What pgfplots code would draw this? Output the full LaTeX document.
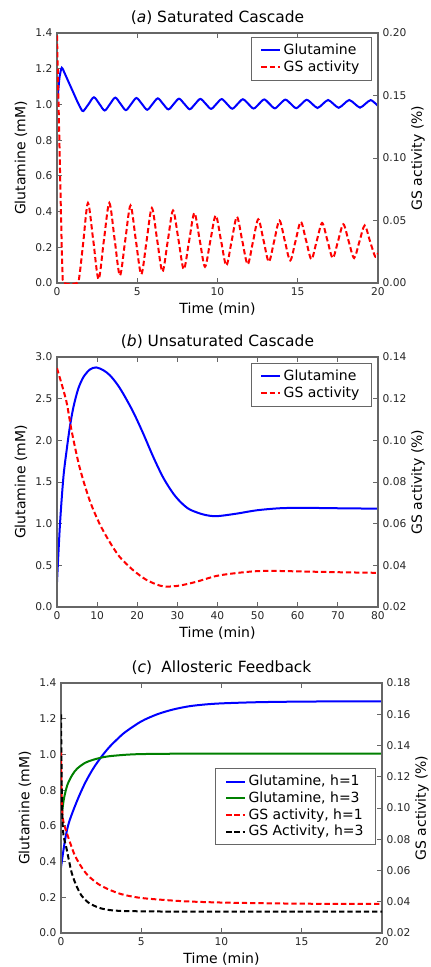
\documentclass[border=0pt]{standalone}
\usepackage{fontspec}
\setmainfont{DejaVu Sans}
\usepackage{pgfplots}
\pgfplotsset{compat=1.18}

\definecolor{mplblue}{rgb}{0,0,1}
\definecolor{mplgreen}{rgb}{0,0.5,0}
\definecolor{mplred}{rgb}{1,0,0}

\newcommand{\tickfont}{\fontsize{8}{9.6}\selectfont}
\newcommand{\labfont}{\fontsize{10.5}{12}\selectfont}
\newcommand{\titfont}{\fontsize{11.6}{13}\selectfont}

\pgfplotsset{
  every axis title shift=0pt,
  panel/.style={scale only axis, width=240.75pt, height=187.5pt, anchor=north west,
    axis line style={black!60, line width=0.8pt},
    major tick length=3.5pt, tick style={black!60, line width=0.7pt},
    tick label style={font=\tickfont, color=black!85},
    label style={font=\labfont},
    /pgf/number format/assume math mode=true, scaled ticks=false,
    xlabel style={at={(axis description cs:0.5,-0.105)}, anchor=center}},
  leftax/.style={panel, ytick pos=left,
    ylabel style={at={(axis description cs:-0.112,0.5)}, anchor=center},
    yticklabel style={/pgf/number format/.cd, fixed, fixed zerofill, precision=1},
    title style={at={(axis description cs:0.5,1.062)}, anchor=center, font=\titfont}},
  rightax/.style={panel, hide x axis, ytick pos=right,
    ylabel style={at={(axis description cs:1.125,0.5)}, anchor=center},
    yticklabel style={/pgf/number format/.cd, fixed, fixed zerofill, precision=2},
    legend cell align=left,
    legend style={draw=black!60, line width=0.6pt, font=\labfont, anchor=north east,
      inner xsep=7pt, inner ysep=3pt, row sep=-1pt},
    legend image code/.code={\draw[#1] (0pt,0pt) -- (14pt,0pt);}},
  solid1/.style={line width=1.5pt, smooth},
  gsdash/.style={mplred, line width=1.5pt, smooth, dash pattern=on 4pt off 2.2pt},
}

\begin{document}
\begin{tikzpicture}
% (a) saturated cascade
\begin{axis}[leftax, at={(0pt,0pt)}, xmin=0, xmax=20, ymin=0, ymax=1.4,
  xtick={0,5,10,15,20}, ytick={0,0.2,0.4,0.6,0.8,1.0,1.2,1.4},
  xlabel={Time (min)}, ylabel={Glutamine (mM)},
  title={(\textit{a}) Saturated Cascade}]
\addplot[mplblue, solid1] coordinates {
(0,1.00) (0.08,1.08) (0.17,1.16) (0.3,1.205) (0.45,1.18) (0.7,1.13) (1.0,1.07) (1.3,1.01) (1.5,0.975)
(1.64,0.963) (1.97,1.002) (2.30,1.040) (2.64,1.003) (2.97,0.966) (3.30,1.002) (3.63,1.038) (3.96,1.003)
(4.29,0.968) (4.62,1.002) (4.95,1.036) (5.29,1.003) (5.62,0.970) (5.95,1.002) (6.28,1.034) (6.61,1.003)
(6.94,0.972) (7.27,1.002) (7.60,1.032) (7.94,1.0025) (8.27,0.973) (8.60,1.002) (8.93,1.031) (9.27,1.003)
(9.60,0.975) (9.93,1.0025) (10.26,1.030) (10.59,1.003) (10.92,0.976) (11.25,1.0025) (11.58,1.029) (11.92,1.003)
(12.25,0.977) (12.58,1.0025) (12.91,1.028) (13.24,1.003) (13.57,0.978) (13.90,1.0025) (14.23,1.027) (14.57,1.003)
(14.90,0.979) (15.23,1.0025) (15.56,1.026) (15.90,1.003) (16.23,0.980) (16.56,1.0025) (16.89,1.025) (17.22,1.003)
(17.55,0.981) (17.88,1.003) (18.21,1.025) (18.55,1.0035) (18.88,0.982) (19.21,1.003) (19.54,1.024) (19.87,1.003)
(20.0,0.992)
};
\end{axis}
\begin{axis}[rightax, at={(0pt,0pt)}, xmin=0, xmax=20, ymin=0, ymax=0.2,
  ytick={0,0.05,0.10,0.15,0.20}, ylabel={GS activity (\%)},
  legend style={at={(axis description cs:0.981,0.984)}}]
\addlegendimage{mplblue, line width=1.5pt}
\addlegendentry{Glutamine}
\addplot[gsdash] coordinates {
(0,0.198) (0.12,0.13) (0.24,0.06) (0.34,0.01) (0.45,0.0) (1.25,0.0) (1.40,0.006) (1.64,0.033)
(1.93,0.064) (2.26,0.034) (2.59,0.003) (2.92,0.034) (3.26,0.064) (3.59,0.035) (3.92,0.006) (4.25,0.034)
(4.58,0.062) (4.91,0.0345) (5.25,0.007) (5.58,0.0335) (5.91,0.060) (6.24,0.0345) (6.57,0.009) (6.90,0.0335)
(7.23,0.058) (7.57,0.0345) (7.90,0.011) (8.23,0.0335) (8.56,0.056) (8.89,0.0345) (9.22,0.013) (9.55,0.0335)
(9.89,0.054) (10.22,0.034) (10.55,0.014) (10.88,0.0335) (11.21,0.053) (11.54,0.034) (11.88,0.015) (12.21,0.033)
(12.54,0.051) (12.87,0.034) (13.20,0.017) (13.53,0.0335) (13.86,0.050) (14.19,0.034) (14.53,0.018) (14.86,0.0335)
(15.19,0.049) (15.52,0.034) (15.85,0.019) (16.18,0.0335) (16.52,0.048) (16.85,0.034) (17.18,0.020) (17.51,0.0335)
(17.84,0.047) (18.17,0.0335) (18.51,0.020) (18.84,0.033) (19.17,0.046) (19.50,0.0335) (19.83,0.021) (20.0,0.024)
};
\addlegendentry{GS activity}
\end{axis}

% (b) unsaturated cascade
\begin{axis}[leftax, at={(0pt,-243pt)}, xmin=0, xmax=80, ymin=0, ymax=3,
  xtick={0,10,20,30,40,50,60,70,80}, ytick={0,0.5,1.0,1.5,2.0,2.5,3.0},
  xlabel={Time (min)}, ylabel={Glutamine (mM)},
  title={(\textit{b}) Unsaturated Cascade}]
\addplot[mplblue, solid1] coordinates {
(0,0.30) (0.75,1.0) (1.6,1.56) (2.4,1.88) (3.2,2.16) (4.1,2.40) (5.3,2.62) (6.6,2.76) (8.2,2.85)
(9.8,2.875) (11.6,2.84) (13.2,2.78) (14.9,2.68) (16.5,2.56) (19.0,2.34) (21.5,2.08) (24.0,1.80)
(26.5,1.55) (29.0,1.36) (31.0,1.25) (33.1,1.17) (36.5,1.11) (39.7,1.09) (44.7,1.12) (49.7,1.16)
(55.5,1.185) (61.3,1.19) (70,1.185) (80,1.18)
};
\end{axis}
\begin{axis}[rightax, at={(0pt,-243pt)}, xmin=0, xmax=80, ymin=0.02, ymax=0.14,
  ytick={0.02,0.04,0.06,0.08,0.10,0.12,0.14}, ylabel={GS activity (\%)},
  legend style={at={(axis description cs:0.981,0.976)}}]
\addlegendimage{mplblue, line width=1.5pt}
\addlegendentry{Glutamine}
\addplot[gsdash] coordinates {
(0,0.1346) (2.3,0.119) (3.6,0.105) (5.6,0.0873) (8.1,0.0714) (10.6,0.060) (13.1,0.0513) (15.6,0.0441)
(18.9,0.0378) (22.3,0.033) (25.6,0.0303) (27.5,0.0298) (30.6,0.0303) (34.7,0.0321) (39.7,0.0349)
(44.7,0.0363) (49.7,0.0372) (55,0.0373) (60,0.0371) (70,0.0367) (80,0.0364)
};
\addlegendentry{GS activity}
\end{axis}

% (c) allosteric feedback
\begin{axis}[leftax, at={(3pt,-487.5pt)}, xmin=0, xmax=20, ymin=0, ymax=1.4,
  xtick={0,5,10,15,20}, ytick={0,0.2,0.4,0.6,0.8,1.0,1.2,1.4},
  xlabel={Time (min)}, ylabel={Glutamine (mM)},
  title={(\textit{c})\hspace{0.6em}Allosteric Feedback}]
\addplot[mplblue, solid1] coordinates {
(0,0.367) (0.25,0.52) (0.5,0.62) (1,0.74) (1.5,0.84) (2,0.92) (2.5,0.985) (3,1.04) (3.5,1.085)
(4,1.125) (5,1.185) (6,1.225) (7,1.252) (8,1.27) (9,1.28) (10,1.286) (12,1.292) (14,1.295) (17,1.297) (20,1.297)
};
\addplot[mplgreen, solid1] coordinates {
(0,0.62) (0.1,0.70) (0.2,0.76) (0.4,0.83) (0.7,0.885) (1.0,0.92) (1.5,0.953) (2,0.970) (2.5,0.982)
(3,0.99) (4,0.998) (5,1.002) (7,1.004) (10,1.005) (20,1.005)
};
\end{axis}
\begin{axis}[rightax, at={(3pt,-487.5pt)}, xmin=0, xmax=20, ymin=0.02, ymax=0.18,
  ytick={0.02,0.04,0.06,0.08,0.10,0.12,0.14,0.16,0.18}, ylabel={GS activity (\%)},
  legend style={at={(axis description cs:0.981,0.659)}}]
\addlegendimage{mplblue, line width=1.5pt}
\addlegendentry{Glutamine, h=1}
\addlegendimage{mplgreen, line width=1.5pt}
\addlegendentry{Glutamine, h=3}
\addplot[gsdash] coordinates {
(0,0.136) (0.04,0.108) (0.1,0.095) (0.2,0.089) (0.3,0.086) (0.56,0.078) (0.87,0.0695) (1.29,0.062)
(1.7,0.0566) (2.33,0.0513) (2.95,0.048) (3.78,0.0448) (4.8,0.0427) (5.86,0.0416) (7.7,0.0403)
(10,0.0395) (13,0.039) (16,0.0387) (20,0.0386)
};
\addlegendentry{GS activity, h=1}
\addplot[black, line width=1.5pt, smooth, dash pattern=on 4pt off 2.2pt] coordinates {
(0,0.160) (0.04,0.12) (0.08,0.095) (0.15,0.083) (0.25,0.078) (0.35,0.0738) (0.66,0.0588) (0.97,0.050)
(1.29,0.0438) (1.7,0.0395) (2.33,0.0363) (2.95,0.0348) (3.78,0.0341) (5,0.0339) (8,0.0337) (20,0.0337)
};
\addlegendentry{GS Activity, h=3}
\end{axis}

\pgfresetboundingbox
\path (-42.75pt,24.75pt) rectangle (279.75pt,-700.5pt);
\end{tikzpicture}
\end{document}
